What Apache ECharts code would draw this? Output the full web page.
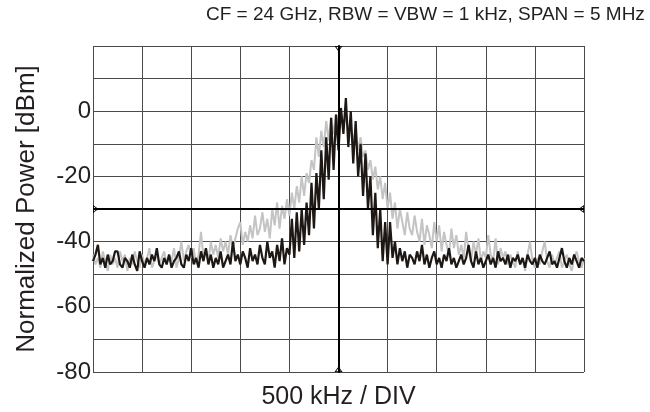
<!DOCTYPE html>
<html>
<head>
<meta charset="utf-8">
<title>Spectrum</title>
<script src="https://cdn.jsdelivr.net/npm/echarts@6/dist/echarts.min.js"></script>
<style>
  html, body { margin: 0; padding: 0; background: #fff; overflow: hidden; }
  #chart { width: 650px; height: 412px; }
</style>
</head>
<body>
<div id="chart"></div>
<script>
// Frequency offset from the 24 GHz carrier, kHz (span 5 MHz, 25 kHz per sample)
const spanStartKHz = -2500;
const sampleStepKHz = 25;

// Reference trace (light grey), dBm normalised
const traceGrey = [
  -44,-47,-45,-48,-43,-46,-49,-44,-47,-45,
  -48,-43,-46,-44,-49,-45,-47,-43,-46,-48,
  -44,-47,-45,-42,-48,-46,-44,-47,-45,-43,
  -47,-44,-46,-42,-48,-45,-40,-46,-43,-41,
  -45,-42,-47,-44,-37,-45,-42,-46,-40,-44,
  -41,-45,-39,-43,-40,-44,-38,-42,-39,-36,
  -34,-41,-37,-40,-35,-39,-32,-38,-36,-31,
  -37,-33,-39,-30,-35,-28,-36,-29,-33,-27,
  -32,-25,-30,-23,-28,-20,-26,-19,-22,-15,
  -18,-8,-14,-6,-11,-3,-9,-2,-7,-1,
  -5,0,-4,-2,-6,-5,-9,-6,-12,-8,
  -14,-12,-18,-15,-21,-17,-24,-20,-27,-22,
  -30,-25,-33,-28,-36,-30,-34,-38,-31,-36,
  -38,-32,-37,-40,-33,-41,-35,-38,-42,-34,
  -40,-35,-43,-37,-41,-44,-36,-42,-38,-44,
  -41,-45,-37,-43,-46,-40,-44,-39,-46,-43,
  -45,-38,-44,-46,-39,-47,-42,-45,-43,-47,
  -44,-46,-48,-43,-47,-45,-49,-44,-40,-46,
  -48,-45,-47,-43,-40,-46,-48,-44,-47,-45,
  -43,-48,-46,-44,-47,-49,-45,-43,-46,-48,
  -45
];

// Measured trace (black), dBm normalised
const traceBlack = [
  -46,-44,-41,-47,-45,-48,-44,-47,-46,-43,
  -43,-47,-48,-45,-46,-48,-44,-47,-49,-43,
  -46,-48,-45,-47,-44,-46,-42,-47,-48,-45,
  -47,-44,-48,-46,-45,-43,-47,-48,-44,-46,
  -42,-47,-45,-48,-43,-46,-42,-47,-44,-48,
  -45,-47,-43,-48,-46,-44,-47,-40,-46,-44,
  -47,-43,-45,-48,-42,-46,-44,-47,-41,-45,
  -47,-40,-45,-43,-48,-41,-46,-39,-47,-42,
  -44,-33,-45,-31,-43,-30,-41,-28,-38,-22,
  -36,-19,-30,-12,-27,-8,-21,-2,-18,-1,
  -12,1,-7,4,-11,0,-16,-3,-20,-10,
  -26,-13,-30,-20,-38,-25,-42,-30,-46,-34,
  -47,-34,-45,-40,-47,-42,-46,-43,-48,-44,
  -45,-47,-43,-46,-41,-47,-44,-48,-45,-43,
  -47,-45,-48,-44,-46,-42,-47,-45,-48,-46,
  -44,-47,-45,-41,-46,-48,-43,-47,-45,-48,
  -46,-44,-47,-45,-48,-43,-46,-45,-47,-44,
  -48,-45,-46,-44,-47,-45,-48,-44,-46,-47,
  -45,-48,-44,-46,-47,-45,-43,-47,-46,-48,
  -45,-42,-46,-48,-45,-47,-44,-46,-48,-45,
  -46
];

// Vertical scale
const yMin = -80, yMax = 20, yStep = 10;
const yLabelledTicks = [-80, -60, -40, -20, 0];

const toPairs = vals => vals.map((v, i) => [spanStartKHz + i * sampleStepKHz, v]);

const txt = '#231f20';
const fontFamily = '"Liberation Sans", Arial, Helvetica, sans-serif';

// open chevron drawn on the inner side of each end of the centre lines
const chevron = 'path://M0,7L10,7L5,14Z M2,8L5,12L8,8Z M5,0L5.01,0L5,0.01Z';

const chart = echarts.init(document.getElementById('chart'), null, {
  renderer: 'canvas', width: 650, height: 412
});
chart.setOption({
  animation: false,
  backgroundColor: '#ffffff',
  title: {
    text: 'CF = 24 GHz, RBW = VBW = 1 kHz, SPAN = 5 MHz',
    left: 201,
    top: 0,
    textStyle: { fontFamily, fontSize: 19, fontWeight: 'normal', color: txt }
  },
  grid: {
    left: 93, right: 66, top: 46, bottom: 40,
    containLabel: false,
    outerBoundsMode: 'none'
  },
  xAxis: {
    type: 'value',
    min: -2500,
    max: 2500,
    interval: 500,
    name: '500 kHz / DIV',
    nameLocation: 'middle',
    nameGap: 13,
    nameTextStyle: { fontFamily, fontSize: 25, color: txt },
    axisLine: { show: false },
    axisTick: { show: false },
    axisLabel: { show: false },
    splitLine: { show: true, lineStyle: { color: '#4a4a4a', width: 1 } }
  },
  yAxis: {
    type: 'value',
    min: yMin,
    max: yMax,
    interval: yStep,
    name: 'Normalized Power [dBm]',
    nameLocation: 'middle',
    nameGap: 53,
    nameTextStyle: { fontFamily, fontSize: 26, color: txt },
    axisLine: { show: true, lineStyle: { color: '#000', width: 2 } },
    axisTick: { show: false },
    axisLabel: {
      margin: 2,
      fontFamily,
      fontSize: 24,
      color: txt,
      formatter: v => (yLabelledTicks.indexOf(v) >= 0 ? String(v) : '')
    },
    splitLine: { show: true, lineStyle: { color: '#4a4a4a', width: 1 } }
  },
  series: [
    {
      name: 'grey',
      type: 'line',
      data: toPairs(traceGrey),
      showSymbol: false,
      lineStyle: { color: '#c4c4c4', width: 2 },
      z: 2
    },
    {
      name: 'black',
      type: 'line',
      data: toPairs(traceBlack),
      showSymbol: false,
      lineStyle: { color: '#1e1815', width: 2.2 },
      z: 3,
      markLine: {
        silent: true,
        symbol: [chevron, chevron],
        symbolSize: [8, 11],
        label: { show: false },
        lineStyle: { color: '#000', width: 2, type: 'solid' },
        data: [{ xAxis: 0 }, { yAxis: -30 }]
      }
    }
  ]
});
</script>
</body>
</html>
